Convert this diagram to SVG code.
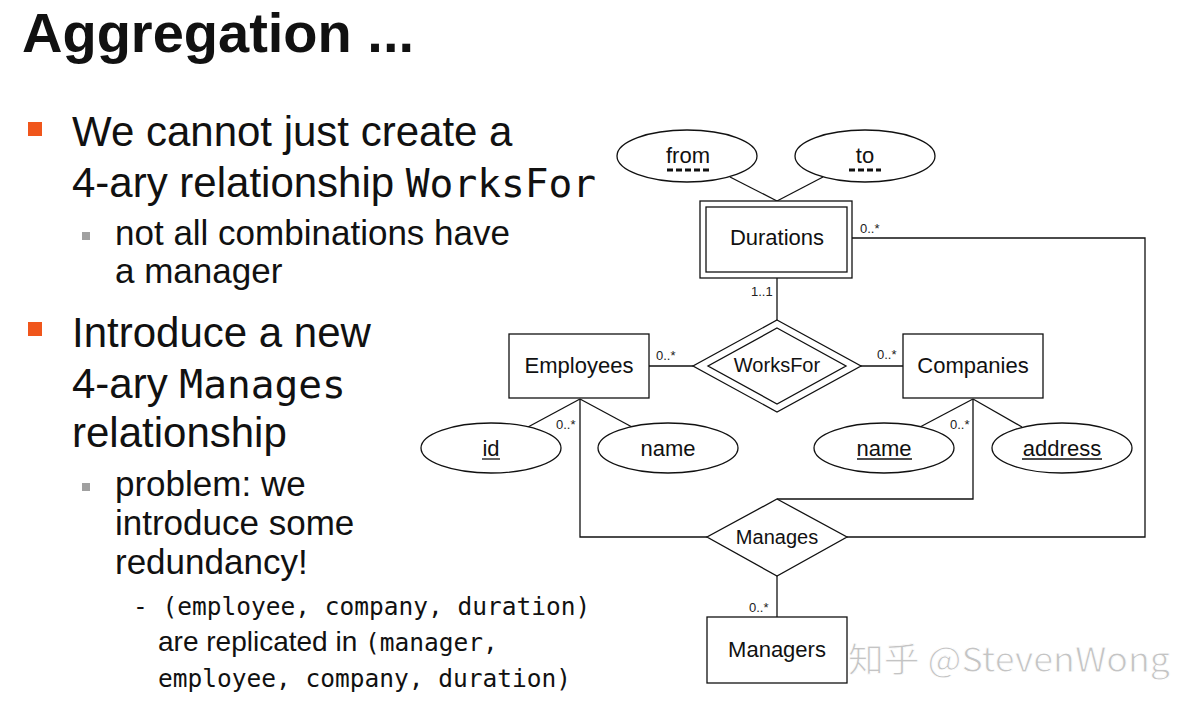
<svg xmlns="http://www.w3.org/2000/svg" width="1200" height="713" viewBox="0 0 1200 713">
<style>
.t{font-family:"Liberation Sans",Arial,sans-serif;fill:#111}
.m{font-family:"DejaVu Sans Mono","Liberation Mono",monospace;fill:#111}
.n{font-family:"Liberation Sans",Arial,sans-serif;font-size:22px;fill:#111;text-anchor:middle}
.r{font-family:"Liberation Sans",Arial,sans-serif;font-size:20px;fill:#111;text-anchor:middle}
.c{font-family:"Liberation Sans",Arial,sans-serif;font-size:13px;fill:#222}
.s{fill:#fff;stroke:#111;stroke-width:1.3}
.l{fill:none;stroke:#111;stroke-width:1.3}
.u{stroke:#111;stroke-width:1.3}
.d{stroke:#111;stroke-width:3;stroke-dasharray:6 3}
</style>
<rect width="1200" height="713" fill="#fff"/>
<g id="slide-text">
<text class="t" x="22" y="52" font-size="56" font-weight="bold">Aggregation ...</text>
<rect x="28" y="122" width="14" height="14" fill="#f0561c"/>
<text class="t" x="72" y="146" font-size="42">We cannot just create a</text>
<text class="t" x="72" y="197" font-size="42">4-ary relationship <tspan class="m" font-size="39.5">WorksFor</tspan></text>
<rect x="82" y="232" width="8" height="8" fill="#a0a0a0"/>
<text class="t" x="115" y="245" font-size="35">not all combinations have</text>
<text class="t" x="115" y="283" font-size="35">a manager</text>
<rect x="28" y="322" width="14" height="14" fill="#f0561c"/>
<text class="t" x="72" y="347" font-size="42">Introduce a new</text>
<text class="t" x="72" y="398" font-size="42">4-ary <tspan class="m" font-size="39.5">Manages</tspan></text>
<text class="t" x="72" y="447" font-size="42">relationship</text>
<rect x="82" y="483" width="8" height="8" fill="#a0a0a0"/>
<text class="t" x="115" y="496" font-size="35">problem: we</text>
<text class="t" x="115" y="535" font-size="35">introduce some</text>
<text class="t" x="115" y="574" font-size="35">redundancy!</text>
<text class="m" x="133" y="615" font-size="24.5">- (employee, company, duration)</text>
<text class="t" x="158" y="651" font-size="28">are replicated in <tspan class="m" font-size="24.5">(manager,</tspan></text>
<text class="m" x="158" y="687" font-size="24.5">employee, company, duration)</text>
</g>
<g id="connectors">
<line class="l" x1="730" y1="177" x2="777" y2="201"/>
<line class="l" x1="823" y1="177" x2="777" y2="201"/>
<line class="l" x1="777" y1="278" x2="777" y2="321"/>
<polyline class="l" points="852,238 1145,238 1145,537 847,537"/>
<line class="l" x1="649" y1="366" x2="693" y2="366"/>
<line class="l" x1="860" y1="366" x2="903" y2="366"/>
<line class="l" x1="580" y1="399" x2="528" y2="427"/>
<line class="l" x1="580" y1="399" x2="632" y2="427"/>
<polyline class="l" points="580,399 580,537 707,537"/>
<line class="l" x1="973" y1="399" x2="920" y2="427"/>
<line class="l" x1="973" y1="399" x2="1022" y2="427"/>
<polyline class="l" points="973,399 973,499 777,499"/>
<line class="l" x1="777" y1="576" x2="777" y2="617"/>
<text class="c" x="860" y="233">0..*</text>
<text class="c" x="751" y="296">1..1</text>
<text class="c" x="656" y="360">0..*</text>
<text class="c" x="877" y="359">0..*</text>
<text class="c" x="556" y="429">0..*</text>
<text class="c" x="950" y="429">0..*</text>
<text class="c" x="749" y="612">0..*</text>
</g>
<g id="from">
<ellipse class="s" cx="687" cy="156" rx="70" ry="26"/>
<text class="n" x="688" y="163">from</text>
<line class="d" x1="667" y1="170" x2="710" y2="170"/>
</g>
<g id="to">
<ellipse class="s" cx="865" cy="156" rx="70" ry="26"/>
<text class="n" x="865" y="163">to</text>
<line class="d" x1="849" y1="170" x2="881" y2="170"/>
</g>
<g id="durations">
<rect class="s" x="700" y="201" width="152" height="77"/>
<rect class="s" x="706" y="207" width="141" height="65"/>
<text class="n" x="777" y="245">Durations</text>
</g>
<g id="worksfor">
<polygon class="s" points="777,320 861,366 777,412 693,366"/>
<polygon class="s" points="777,328 846,366 777,404 708,366"/>
<text class="r" x="777" y="372">WorksFor</text>
</g>
<g id="employees">
<rect class="s" x="509" y="334" width="140" height="64"/>
<text class="n" x="579" y="373">Employees</text>
</g>
<g id="companies">
<rect class="s" x="903" y="334" width="140" height="64"/>
<text class="n" x="973" y="373">Companies</text>
</g>
<g id="id">
<ellipse class="s" cx="491" cy="448" rx="70" ry="25"/>
<text class="n" x="491" y="456">id</text>
<line class="u" x1="482" y1="459" x2="500" y2="459"/>
</g>
<g id="emp-name">
<ellipse class="s" cx="668" cy="448" rx="70" ry="25"/>
<text class="n" x="668" y="456">name</text>
</g>
<g id="comp-name">
<ellipse class="s" cx="884" cy="448" rx="70" ry="25"/>
<text class="n" x="884" y="456">name</text>
<line class="u" x1="857" y1="459" x2="912" y2="459"/>
</g>
<g id="address">
<ellipse class="s" cx="1062" cy="448" rx="70" ry="25"/>
<text class="n" x="1062" y="456">address</text>
<line class="u" x1="1022" y1="459" x2="1102" y2="459"/>
</g>
<g id="manages">
<polygon class="s" points="777,499 847,537 777,576 707,537"/>
<text class="r" x="777" y="544">Manages</text>
</g>
<g id="managers">
<rect class="s" x="707" y="617" width="140" height="66"/>
<text class="n" x="777" y="657">Managers</text>
</g>
<text x="848" y="672" font-family="'Noto Sans CJK SC','Noto Sans',sans-serif" font-size="34" fill="#c4c4c4" stroke="#fff" stroke-width="0.8" textLength="322" lengthAdjust="spacingAndGlyphs">知乎 @StevenWong</text>
</svg>
